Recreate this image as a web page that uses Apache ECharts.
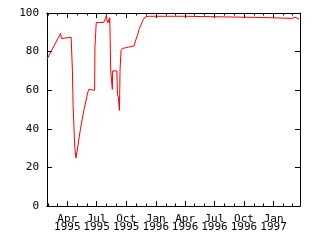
<!DOCTYPE html>
<html><head><meta charset="utf-8">
<script src="https://cdn.jsdelivr.net/npm/echarts@6/dist/echarts.min.js"></script>
<style>html,body{margin:0;padding:0;background:#fff}#c{width:320px;height:240px}</style>
</head><body><div id="c"></div>
<script>
const dates = ["1995-01-28","1995-03-11","1995-03-14","1995-03-24","1995-04-13","1995-04-15","1995-04-17","1995-04-19","1995-04-21","1995-04-24","1995-04-28","1995-05-02","1995-05-12","1995-05-23","1995-06-04","1995-06-07","1995-06-25","1995-06-26","1995-06-29","1995-06-30","1995-07-23","1995-07-29","1995-07-31","1995-08-04","1995-08-07","1995-08-09","1995-08-11","1995-08-13","1995-08-14","1995-08-18","1995-08-19","1995-08-20","1995-09-02","1995-09-04","1995-09-07","1995-09-10","1995-09-12","1995-09-15","1995-09-19","1995-10-08","1995-10-26","1995-10-29","1995-11-06","1995-11-11","1995-11-16","1995-11-21","1995-11-29","1995-12-10","1996-04-02","1996-04-03","1996-11-20","1996-11-21","1997-02-27","1997-03-01","1997-03-09","1997-03-11","1997-03-21"];
const values = [76.0,89.4,86.8,87.0,87.4,87.0,70.0,52.0,44.0,31.0,24.8,29.0,40.0,50.0,59.0,60.4,60.0,82.5,83.0,95.0,95.1,97.2,98.6,95.0,96.5,95.0,97.5,97.0,70.0,70.0,60.4,70.0,70.0,57.8,56.0,49.5,70.8,80.4,81.6,82.3,83.0,85.0,89.0,92.0,93.8,96.0,98.0,98.3,98.3,97.7,97.7,97.2,97.2,97.8,97.8,97.0,96.8];
const xStart = "1995-01-28";
const xEnd = "1997-03-24";
const monthTicks = ["1995-02-01","1995-03-01","1995-04-01","1995-05-01","1995-06-01","1995-07-01","1995-08-01","1995-09-01","1995-10-01","1995-11-01","1995-12-01","1996-01-01","1996-02-01","1996-03-01","1996-04-01","1996-05-01","1996-06-01","1996-07-01","1996-08-01","1996-09-01","1996-10-01","1996-11-01","1996-12-01","1997-01-01","1997-02-01","1997-03-01"];
const quarterTicks = ["1995-04-01","1995-07-01","1995-10-01","1996-01-01","1996-04-01","1996-07-01","1996-10-01","1997-01-01"];
const monthNames = ["Jan","Feb","Mar","Apr","May","Jun","Jul","Aug","Sep","Oct","Nov","Dec"];

const ts = s => Date.parse(s + "T00:00:00Z");
const data = dates.map((d, i) => [ts(d), values[i]]);
const FONT = "DejaVu Sans Mono";
const lineCol = "#000";

function xAxisDef(pos, ticks, len, labels) {
  return {
    type: "value", position: pos, min: ts(xStart), max: ts(xEnd),
    axisLine: { show: true, onZero: false, lineStyle: { color: lineCol, width: 1 } },
    axisTick: { show: true, inside: true, length: len, customValues: ticks.map(ts), lineStyle: { color: lineCol, width: 1 } },
    axisLabel: labels ? {
      show: true, customValues: ticks.map(ts), margin: 9, fontFamily: FONT, fontSize: 11, lineHeight: 8, color: "#000",
      formatter: v => { const d = new Date(v); return monthNames[d.getUTCMonth()] + "\n" + d.getUTCFullYear(); }
    } : { show: false },
    splitLine: { show: false }
  };
}
function yAxisDef(pos, labels) {
  return {
    type: "value", position: pos, min: 0, max: 100, interval: 20,
    axisLine: { show: true, onZero: false, lineStyle: { color: lineCol, width: 1 } },
    axisTick: { show: true, inside: true, length: 5, lineStyle: { color: lineCol, width: 1 } },
    axisLabel: labels ? { show: true, margin: 8, fontFamily: FONT, fontSize: 11, color: "#000" } : { show: false },
    splitLine: { show: false }
  };
}

const chart = echarts.init(document.getElementById("c"), null, { renderer: "canvas" });
chart.setOption({
  animation: false,
  backgroundColor: "#fff",
  grid: { left: 47, top: 13, right: 20, bottom: 34, containLabel: false },
  xAxis: [
    xAxisDef("bottom", quarterTicks, 5, true),
    xAxisDef("bottom", monthTicks, 2.5, false),
    xAxisDef("top", quarterTicks, 5, false),
    xAxisDef("top", monthTicks, 2.5, false)
  ],
  yAxis: [yAxisDef("left", true), yAxisDef("right", false)],
  series: [{
    type: "line", xAxisIndex: 0, yAxisIndex: 0, data: data, showSymbol: false, symbol: "none",
    lineStyle: { color: "#ff0000", width: 1 }, itemStyle: { color: "#ff0000" }
  }]
});
</script></body></html>
